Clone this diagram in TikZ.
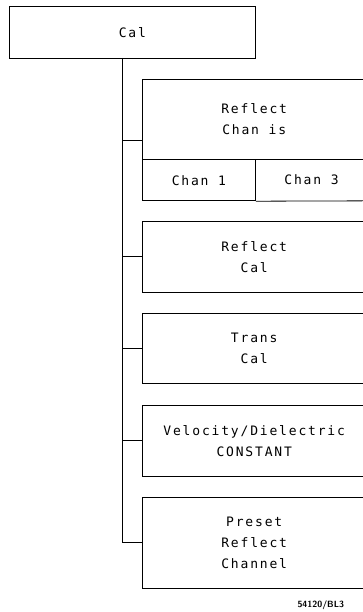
\documentclass[tikz,border=0pt]{standalone}
\usepackage{fontspec}
\setmonofont[LetterSpace=14]{DejaVu Sans Mono}
\usetikzlibrary{positioning,calc}

\tikzset{
    menubox/.style={minimum width=224pt, anchor=north west,
        align=center, font=\fontsize{13}{21}\ttfamily, inner sep=0pt},
    keybox/.style={draw, line width=0.8pt, anchor=north west,
        font=\fontsize{13}{21}\ttfamily, inner sep=0pt},
    tree/.style={line width=0.8pt},
}

\begin{document}
\begin{tikzpicture}[x=1pt, y=-1pt]
    \useasboundingbox (0,0) rectangle (362,612);

    % top key
    \node[keybox, minimum width=246pt, minimum height=52pt] (cal) at (9,6) {Cal};

    % softkey menu (runs off the right edge)
    \node[menubox, minimum height=80pt] (chanis) at (142,79) {Reflect\\Chan is};
    \node[keybox, minimum width=113pt, minimum height=41pt] (chan1) at (chanis.south west) {Chan 1};
    \node[menubox, minimum width=111pt, minimum height=41pt] (chan3) at (chan1.north east) {Chan 3};
    \node[menubox, minimum height=71pt] (refcal) at (142,221) {Reflect\\Cal};
    \node[menubox, minimum height=70pt] (transcal) at (142,313) {Trans\\Cal};
    \node[menubox, minimum height=71pt] (veloc) at (142,405) {Velocity/Dielectric\\CONSTANT};
    \node[menubox, minimum height=91pt] (preset) at (142,497) {Preset\\Reflect\\Channel};

    \foreach \n in {chanis, refcal, transcal, veloc, preset}
        \draw[tree] ([xshift=10pt]\n.north east) -| (\n.south west) -- ([xshift=10pt]\n.south east);
    \draw[tree] (chan1.south east) -- ([xshift=10pt]chan3.south east);

    % tree lines
    \coordinate (tr) at (122,58);
    \coordinate (b1) at ($(chanis.north west)!.5!(chan1.south west)$);
    \draw[tree] (tr) |- (preset.west);
    \draw[tree] (tr |- b1) -- (b1);
    \foreach \n in {refcal, transcal, veloc}
        \draw[tree] (tr |- \n.west) -- (\n.west);

    \node[anchor=base west, font=\fontsize{9}{10}\sffamily\bfseries] (fig) at (294,607) {54120/BL3};
\end{tikzpicture}
\end{document}
